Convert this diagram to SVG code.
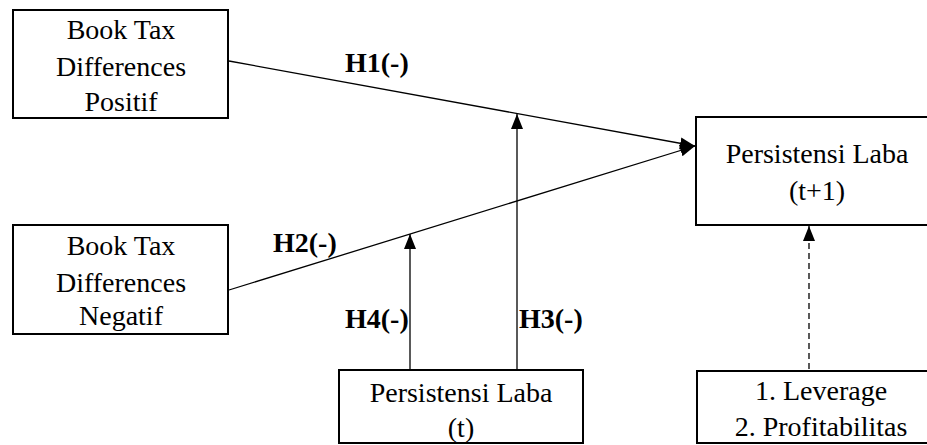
<svg xmlns="http://www.w3.org/2000/svg" width="927" height="445" viewBox="0 0 927 445">
<style>
.box{fill:#fff;stroke:#000;stroke-width:2}
.t{font-family:"Liberation Serif","Times New Roman",serif;font-size:28px;fill:#000;text-anchor:middle}
.h{font-family:"Liberation Serif","Times New Roman",serif;font-size:28px;font-weight:bold;fill:#000}
.c{stroke:#000;stroke-width:1.3;fill:none}
</style>
<defs>
<marker id="arr" markerUnits="userSpaceOnUse" markerWidth="16" markerHeight="14" refX="15" refY="6" orient="auto">
<path d="M0,0 L15,6 L0,12 z" fill="#000"/>
</marker>
</defs>
<g id="connectors">
<line class="c" x1="229" y1="61" x2="695" y2="146" marker-end="url(#arr)"/>
<line class="c" x1="229" y1="290" x2="695" y2="146" marker-end="url(#arr)"/>
<line class="c" x1="517" y1="369" x2="517" y2="114" marker-end="url(#arr)"/>
<line class="c" x1="410" y1="369" x2="410" y2="234" marker-end="url(#arr)"/>
<line class="c" x1="809" y1="369" x2="809" y2="226" stroke-dasharray="6,4" stroke-width="1.6" marker-end="url(#arr)"/>
<text class="h" x="345" y="72">H1(-)</text>
<text class="h" x="273" y="252">H2(-)</text>
<text class="h" x="519" y="328">H3(-)</text>
<text class="h" x="345" y="328">H4(-)</text>
</g>
<g id="btd-positif">
<rect class="box" x="13" y="10" width="215" height="108"/>
<text class="t" x="121" y="39">Book Tax</text>
<text class="t" x="121" y="76">Differences</text>
<text class="t" x="121" y="111">Positif</text>
</g>
<g id="btd-negatif">
<rect class="box" x="13" y="225" width="215" height="109"/>
<text class="t" x="121" y="255">Book Tax</text>
<text class="t" x="121" y="292">Differences</text>
<text class="t" x="121" y="325">Negatif</text>
</g>
<g id="persistensi-t">
<rect class="box" x="339" y="370" width="244" height="73"/>
<text class="t" x="461" y="402">Persistensi Laba</text>
<text class="t" x="461" y="437">(t)</text>
</g>
<g id="persistensi-t1">
<rect class="box" x="696" y="117" width="242" height="108"/>
<text class="t" x="817" y="163">Persistensi Laba</text>
<text class="t" x="817" y="200">(t+1)</text>
</g>
<g id="kontrol">
<rect class="box" x="697" y="371" width="248" height="72"/>
<text class="t" x="821" y="400">1. Leverage</text>
<text class="t" x="821" y="436">2. Profitabilitas</text>
</g>
</svg>
